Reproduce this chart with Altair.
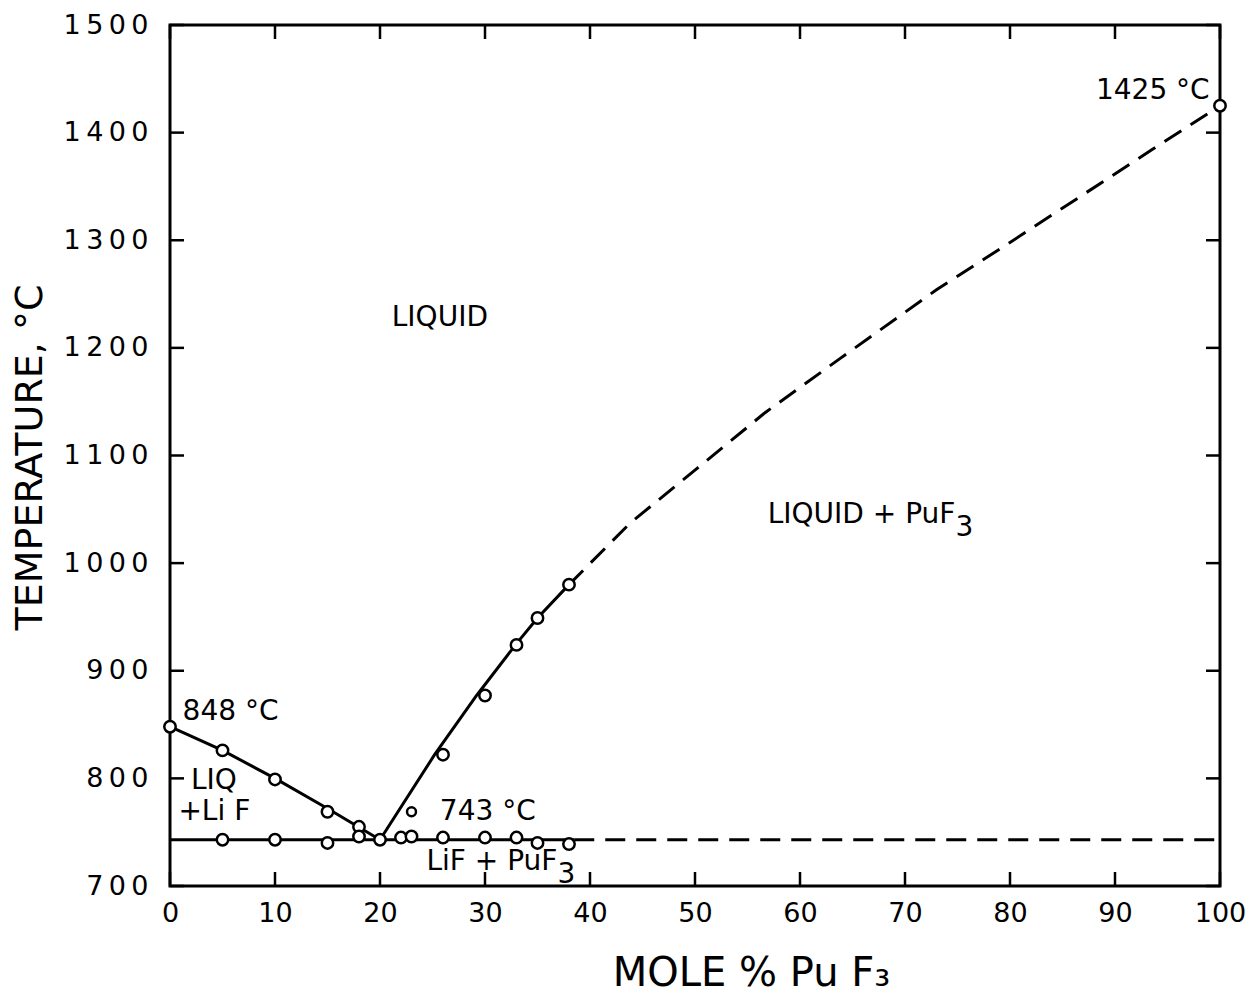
import altair as alt
import pandas as pd

# ---- axis ticks ----
x_ticks = list(range(0, 101, 10))
y_ticks = list(range(700, 1501, 100))

# ---- measured points (mole % PuF3, temperature C) ----
lif_liq_x = [0, 5, 10, 15, 18]
lif_liq_t = [848, 826, 799, 769, 755]
sol_x = [5, 10, 15, 18, 20, 22, 23, 26, 30, 33, 35, 38]
sol_t = [743, 743, 740, 746, 743, 745, 746, 745, 745, 745, 740, 739]
puf_liq_x = [26, 30, 33, 35, 38, 100]
puf_liq_t = [822, 877, 924, 949, 980, 1425]
odd_x = [23]
odd_t = [769]

# ---- drawn curves ----
lif_line_x = [0, 5, 10, 15, 20]
lif_line_t = [848, 826, 800, 772, 743]
puf_solid_x = [20, 25.2, 29.2, 32.9, 35, 38]
puf_solid_t = [743, 822, 877, 924, 949, 980]
puf_dash_x = [38, 43.8, 50.2, 56.7, 63.8, 73, 80, 93.5, 100]
puf_dash_t = [980, 1037, 1088, 1140, 1190, 1254, 1298, 1384, 1425]
eut_solid_x = [0, 38.5]
eut_solid_t = [743, 743]
eut_dash_x = [38.5, 100]
eut_dash_t = [743, 743]

# ---- labels ----
left_labels = ["848 °C", "LIQ", "+Li F", "743 °C"]
left_x = [1.2, 2.0, 0.8, 25.7]
left_t = [862, 798, 769, 769]
center_labels = ["LIQUID", "1425 °C"]
center_x = [25.7, 93.6]
center_t = [1228, 1439]
right_labels = ["LIQUID + PuF", "LiF + PuF"]
right_x = [74.8, 36.9]
right_t = [1045, 722]
sub_labels = ["3", "3"]
sub_x = [74.8, 36.9]
sub_t = [1033, 710]

W, H = 1050, 861
FONT = "DejaVu Sans"

xs = alt.Scale(domain=[0, 100], nice=False, zero=False)
ys = alt.Scale(domain=[700, 1500], nice=False, zero=False)

x_axis = alt.Axis(
    values=x_ticks, ticks=False, domain=False, grid=False, labelFlush=False,
    labelFont=FONT, labelFontSize=27, labelColor="black", labelPadding=14,
    title="MOLE % Pu F₃", titleFont=FONT, titleFontSize=40,
    titleFontWeight="normal", titleColor="black",
    titleX=581, titleY=99, titleAlign="center", titleBaseline="alphabetic",
)
y_axis = alt.Axis(
    values=y_ticks, ticks=False, domain=False, grid=False, format="d",
    labelFlush=False,
    labelExpr="join(split(datum.label, ''), '\u2009')",
    labelFont=FONT, labelFontSize=27, labelColor="black", labelPadding=22,
    title="TEMPERATURE,  °C", titleFont=FONT, titleFontSize=38,
    titleFontWeight="normal", titleColor="black",
    titleX=-121, titleY=432, titleAlign="center", titleBaseline="bottom",
    titleAngle=-90,
)


def X(field="x"):
    return alt.X(f"{field}:Q", scale=xs, axis=x_axis)


def Y(field="t"):
    return alt.Y(f"{field}:Q", scale=ys, axis=y_axis)


def seg_df(pairs):
    rows = []
    for name, xv, tv in pairs:
        for a, b in zip(xv, tv):
            rows.append({"seg": name, "x": a, "t": b})
    return pd.DataFrame(rows)


solid_df = seg_df([
    ("lif", lif_line_x, lif_line_t),
    ("puf", puf_solid_x, puf_solid_t),
    ("eut", eut_solid_x, eut_solid_t),
])
dash_df = seg_df([
    ("puf", puf_dash_x, puf_dash_t),
    ("eut", eut_dash_x, eut_dash_t),
])

pts_df = pd.DataFrame({
    "x": lif_liq_x + sol_x + puf_liq_x,
    "t": lif_liq_t + sol_t + puf_liq_t,
})
odd_df = pd.DataFrame({"x": odd_x, "t": odd_t})

# inward tick marks drawn as rules
tl_x = 14 * 100 / W
tl_t = 14 * 800 / H
tick_rows = []
for v in x_ticks:
    tick_rows.append({"x": v, "x2": v, "t": 700, "t2": 700 + tl_t})
    tick_rows.append({"x": v, "x2": v, "t": 1500, "t2": 1500 - tl_t})
for v in y_ticks:
    tick_rows.append({"x": 0, "x2": tl_x, "t": v, "t2": v})
    tick_rows.append({"x": 100, "x2": 100 - tl_x, "t": v, "t2": v})
ticks_df = pd.DataFrame(tick_rows)

ticks = alt.Chart(ticks_df).mark_rule(color="black", strokeWidth=2.5).encode(
    x=X(), x2="x2:Q", y=Y(), y2="t2:Q"
)

solid = alt.Chart(solid_df).mark_line(color="black", strokeWidth=3).encode(
    x=X(), y=Y(), detail="seg:N"
)
dashed = alt.Chart(dash_df).mark_line(
    color="black", strokeWidth=3, strokeDash=[20, 11]
).encode(x=X(), y=Y(), detail="seg:N")

points = alt.Chart(pts_df).mark_point(
    shape="circle", filled=True, fill="white", stroke="black",
    strokeWidth=2.5, size=130, opacity=1
).encode(x=X(), y=Y())
odd_pt = alt.Chart(odd_df).mark_point(
    shape="circle", filled=True, fill="white", stroke="black",
    strokeWidth=2.5, size=80, opacity=1
).encode(x=X(), y=Y())


def text_layer(labels, xv, tv, align, size=28):
    df = pd.DataFrame({"label": labels, "x": xv, "t": tv})
    return alt.Chart(df).mark_text(
        font=FONT, fontSize=size, align=align, baseline="middle", color="black"
    ).encode(x=X(), y=Y(), text="label:N")


txt_left = text_layer(left_labels, left_x, left_t, "left")
txt_center = text_layer(center_labels, center_x, center_t, "center")
txt_right = text_layer(right_labels, right_x, right_t, "right")
txt_sub = text_layer(sub_labels, sub_x, sub_t, "left")

chart = alt.layer(
    ticks, solid, dashed, points, odd_pt,
    txt_left, txt_center, txt_right, txt_sub
).properties(
    width=W, height=H,
    autosize=alt.AutoSizeParams(type="none"),
    padding={"left": 162, "top": 17, "right": 30, "bottom": 108},
    background="white",
).configure_view(stroke="black", strokeWidth=3)

chart.save("out.html", embed_options={"renderer": "svg", "actions": False})
